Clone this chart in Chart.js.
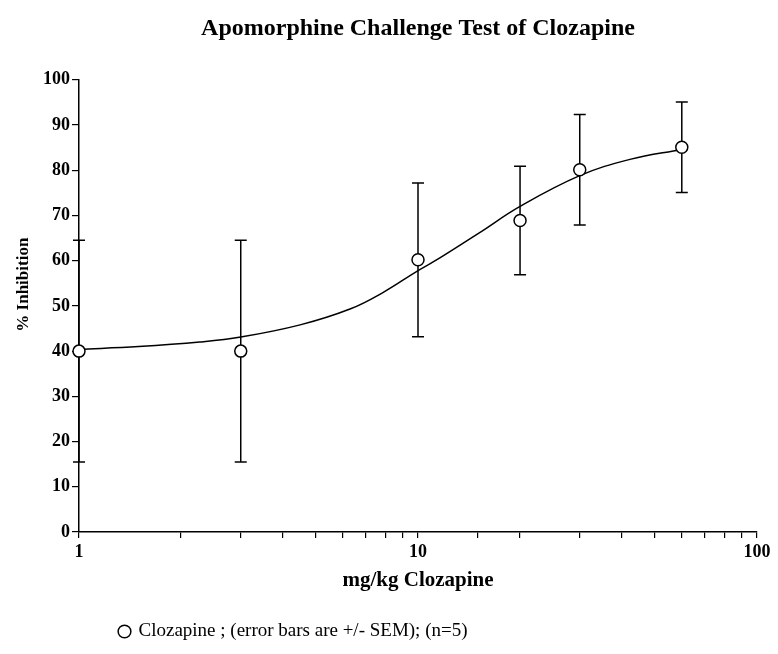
<!DOCTYPE html>
<html>
<head>
<meta charset="utf-8">
<script src="https://cdn.jsdelivr.net/npm/chart.js@4.4.1/dist/chart.umd.min.js"></script>
<style>
  html, body { margin: 0; padding: 0; background: #fff; }
  #wrap { width: 778px; height: 654px; }
</style>
</head>
<body>
<div id="wrap"><canvas id="apoChart"></canvas></div>
<script>
// measured points (mg/kg, % inhibition, SEM)
var doses = [1, 3, 10, 20, 30, 60];
var inhibition = [40, 40, 60.2, 68.9, 80.1, 85.1];
var sem = [24.5, 24.5, 17, 12, 12.2, 10];

// fitted curve
var fitDoses = [1, 1.5, 2.27, 3, 4.49, 6.3, 7.9, 10, 11.6, 15.2, 20, 30, 42.2, 60];
var fitValues = [40.4, 41.0, 42.0, 43.1, 45.8, 49.3, 53.0, 57.8, 60.6, 66.2, 72.0, 78.8, 82.4, 84.6];

var xTicksShown = [1, 10, 100];
var serif = "'Liberation Serif', 'Times New Roman', serif";

var meanPts = doses.map(function (d, i) { return { x: d, y: inhibition[i] }; });
var fitPts = fitDoses.map(function (d, i) { return { x: d, y: fitValues[i] }; });

// error bars drawn through the chart scales
var errorBars = {
    id: 'errorBars',
    beforeDatasetsDraw: function (chart) {
        var ctx = chart.ctx, xs = chart.scales.x, ys = chart.scales.y;
        ctx.save();
        ctx.strokeStyle = '#000';
        ctx.lineWidth = 1.5;
        doses.forEach(function (d, i) {
            var px = xs.getPixelForValue(d);
            var top = ys.getPixelForValue(inhibition[i] + sem[i]);
            var bot = ys.getPixelForValue(inhibition[i] - sem[i]);
            ctx.beginPath();
            ctx.moveTo(px, top); ctx.lineTo(px, bot);
            ctx.moveTo(px - 6, top); ctx.lineTo(px + 6, top);
            ctx.moveTo(px - 6, bot); ctx.lineTo(px + 6, bot);
            ctx.stroke();
        });
        ctx.restore();
    }
};

// legend sits left of centre in the original
var shiftLegend = {
    id: 'shiftLegend',
    afterLayout: function (chart) {
        var lg = chart.legend;
        var w = lg.right - lg.left;
        lg.left = 110;
        lg.right = 110 + w;
    }
};

new Chart(document.getElementById('apoChart'), {
    type: 'scatter',
    data: {
        datasets: [
            {
                label: 'fit',
                data: fitPts,
                showLine: true,
                borderColor: '#000',
                borderWidth: 1.5,
                pointRadius: 0,
                tension: 0.4,
                order: 2
            },
            {
                label: 'Clozapine ; (error bars are +/- SEM); (n=5)',
                data: meanPts,
                pointStyle: 'circle',
                pointRadius: 6,
                pointBackgroundColor: '#fff',
                pointBorderColor: '#000',
                pointBorderWidth: 1.5,
                backgroundColor: '#fff',
                borderColor: '#000',
                clip: false,
                order: 1
            }
        ]
    },
    options: {
        responsive: true,
        maintainAspectRatio: false,
        animation: false,
        layout: { padding: { left: 0, right: 21, top: 0, bottom: 3 } },
        plugins: {
            tooltip: { enabled: false },
            title: {
                display: true,
                text: 'Apomorphine Challenge Test of Clozapine',
                color: '#000',
                fullSize: false,
                font: { family: serif, size: 24, weight: 'bold' },
                padding: { top: 14, bottom: 37 }
            },
            legend: {
                position: 'bottom',
                align: 'start',
                labels: {
                    filter: function (item) { return item.datasetIndex === 1; },
                    usePointStyle: true,
                    boxWidth: 9,
                    boxHeight: 9,
                    padding: 10,
                    color: '#000',
                    font: { family: serif, size: 19 }
                }
            }
        },
        scales: {
            x: {
                type: 'logarithmic',
                min: 1,
                max: 100,
                afterFit: function (s) { s.height = 80; },
                border: { display: true, color: '#000', width: 1.5 },
                grid: { display: true, drawOnChartArea: false, drawTicks: true, tickLength: 6, color: '#000', lineWidth: 1.2 },
                ticks: {
                    autoSkip: false,
                    maxRotation: 0,
                    padding: 4,
                    color: '#000',
                    font: { family: serif, size: 18, weight: 'bold' },
                    callback: function (v) { return xTicksShown.indexOf(v) >= 0 ? String(v) : ''; }
                },
                title: {
                    display: true,
                    text: 'mg/kg Clozapine',
                    color: '#000',
                    font: { family: serif, size: 21, weight: 'bold' },
                    padding: { top: 4, bottom: 19 }
                }
            },
            y: {
                min: 0,
                max: 100,
                afterFit: function (s) { s.width = 79; },
                border: { display: true, color: '#000', width: 1.5 },
                grid: { display: true, drawOnChartArea: false, drawTicks: true, tickLength: 7, color: '#000', lineWidth: 1.2 },
                ticks: {
                    stepSize: 10,
                    padding: 2,
                    color: '#000',
                    font: { family: serif, size: 18, weight: 'bold' }
                },
                title: {
                    display: true,
                    text: '          % Inhibition',
                    color: '#000',
                    font: { family: serif, size: 17, weight: 'bold' },
                    padding: { top: 13, bottom: 0 }
                }
            }
        }
    },
    plugins: [errorBars, shiftLegend]
});
</script>
</body>
</html>
